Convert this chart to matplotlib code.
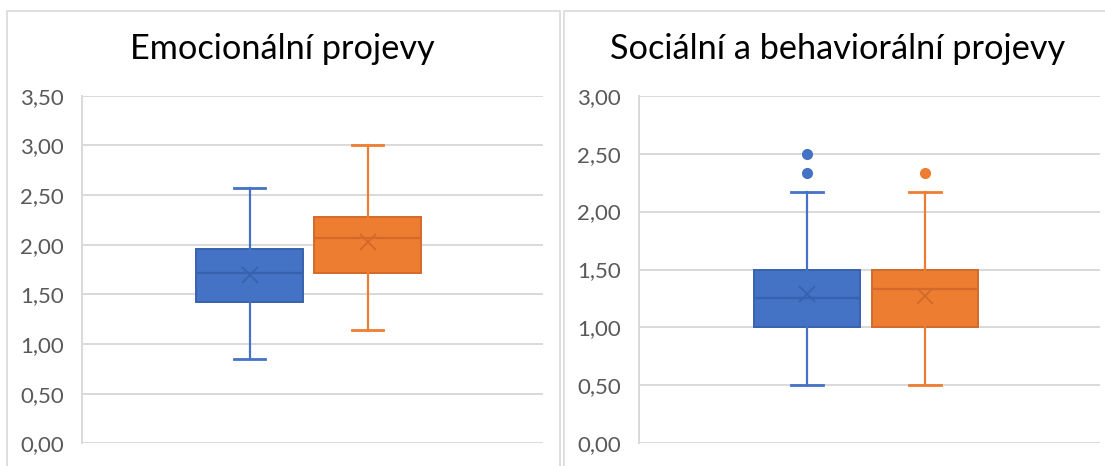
import matplotlib.pyplot as plt
from matplotlib.patches import Rectangle

plt.rcParams['font.family'] = ['Lato', 'DejaVu Sans']

# values (box & whisker stats per group)
titles = ["Emocionální projevy", "Sociální a behaviorální projevy"]
ymax = [3.5, 3.0]

emo_q1 = [1.42, 1.71]
emo_med = [1.71, 2.07]
emo_q3 = [1.96, 2.28]
emo_lo = [0.85, 1.14]
emo_hi = [2.57, 3.00]
emo_mean = [1.69, 2.03]
emo_fliers = [[], []]

soc_q1 = [1.00, 1.00]
soc_med = [1.25, 1.33]
soc_q3 = [1.50, 1.50]
soc_lo = [0.50, 0.50]
soc_hi = [2.17, 2.17]
soc_mean = [1.29, 1.27]
soc_fliers = [[2.50, 2.33], [2.33]]

fill_cols = ["#4472C4", "#ED7D31"]
edge_cols = ["#3862AD", "#D3692A"]
grid_col = "#D9D9D9"
tick_col = "#595959"

W, H = 1105, 466


def make_stats(q1, med, q3, lo, hi, mean, fliers):
    out = []
    for i in range(len(q1)):
        out.append(dict(q1=q1[i], med=med[i], q3=q3[i], whislo=lo[i],
                        whishi=hi[i], mean=mean[i], fliers=fliers[i]))
    return out


def draw_panel(ax, stats, top):
    positions = [0.364, 0.620]
    for k, st in enumerate(stats):
        ax.bxp([st], positions=[positions[k]], widths=0.231, capwidths=0.068,
               showmeans=True, patch_artist=True, manage_ticks=False,
               boxprops=dict(facecolor=fill_cols[k], edgecolor=edge_cols[k], linewidth=1.4),
               medianprops=dict(color=edge_cols[k], linewidth=1.6),
               whiskerprops=dict(color=fill_cols[k], linewidth=1.6),
               capprops=dict(color=fill_cols[k], linewidth=2.0),
               meanprops=dict(marker="x", markersize=12, markeredgecolor=edge_cols[k],
                              markeredgewidth=1.3),
               flierprops=dict(marker="o", markersize=7, markerfacecolor=fill_cols[k],
                               markeredgecolor=fill_cols[k]),
               zorder=3)

    ax.set_xlim(0, 1)
    ax.set_ylim(0, top)
    ticks = [i * 0.5 for i in range(int(top / 0.5) + 1)]
    ax.set_yticks(ticks)
    ax.set_yticklabels([("%.2f" % t).replace(".", ",") for t in ticks])
    ax.tick_params(axis="y", length=0, pad=13, labelsize=16, labelcolor=tick_col)
    ax.set_xticks([])
    ax.grid(axis="y", color=grid_col, linewidth=1.4, zorder=0)
    ax.set_axisbelow(True)
    for s in ["top", "right", "bottom"]:
        ax.spines[s].set_visible(False)
    ax.spines["left"].set_color(grid_col)
    ax.spines["left"].set_linewidth(1.4)


fig = plt.figure(figsize=(W / 100, H / 100), dpi=100)

# panel frames
fig.patches.append(Rectangle((7.3 / W, -0.05), (560 - 7.3) / W, 1.05 - 11 / H,
                             transform=fig.transFigure, fill=False,
                             edgecolor=grid_col, linewidth=1.2))
fig.patches.append(Rectangle((564 / W, -0.05), (1120 - 564) / W, 1.05 - 11 / H,
                             transform=fig.transFigure, fill=False,
                             edgecolor=grid_col, linewidth=1.2))

ax1 = fig.add_axes([81.7 / W, (H - 443.3) / H, 461.3 / W, 347.6 / H])
ax2 = fig.add_axes([639.3 / W, (H - 443.3) / H, 460.7 / W, 347.6 / H])

draw_panel(ax1, make_stats(emo_q1, emo_med, emo_q3, emo_lo, emo_hi, emo_mean, emo_fliers), ymax[0])
draw_panel(ax2, make_stats(soc_q1, soc_med, soc_q3, soc_lo, soc_hi, soc_mean, soc_fliers), ymax[1])

fig.text(282 / W, 1 - 59.3 / H, titles[0], ha="center", va="baseline", fontsize=24.7, color="black")
fig.text(838 / W, 1 - 59.3 / H, titles[1], ha="center", va="baseline", fontsize=24.7, color="black")

fig.savefig("out.png", dpi=100)
